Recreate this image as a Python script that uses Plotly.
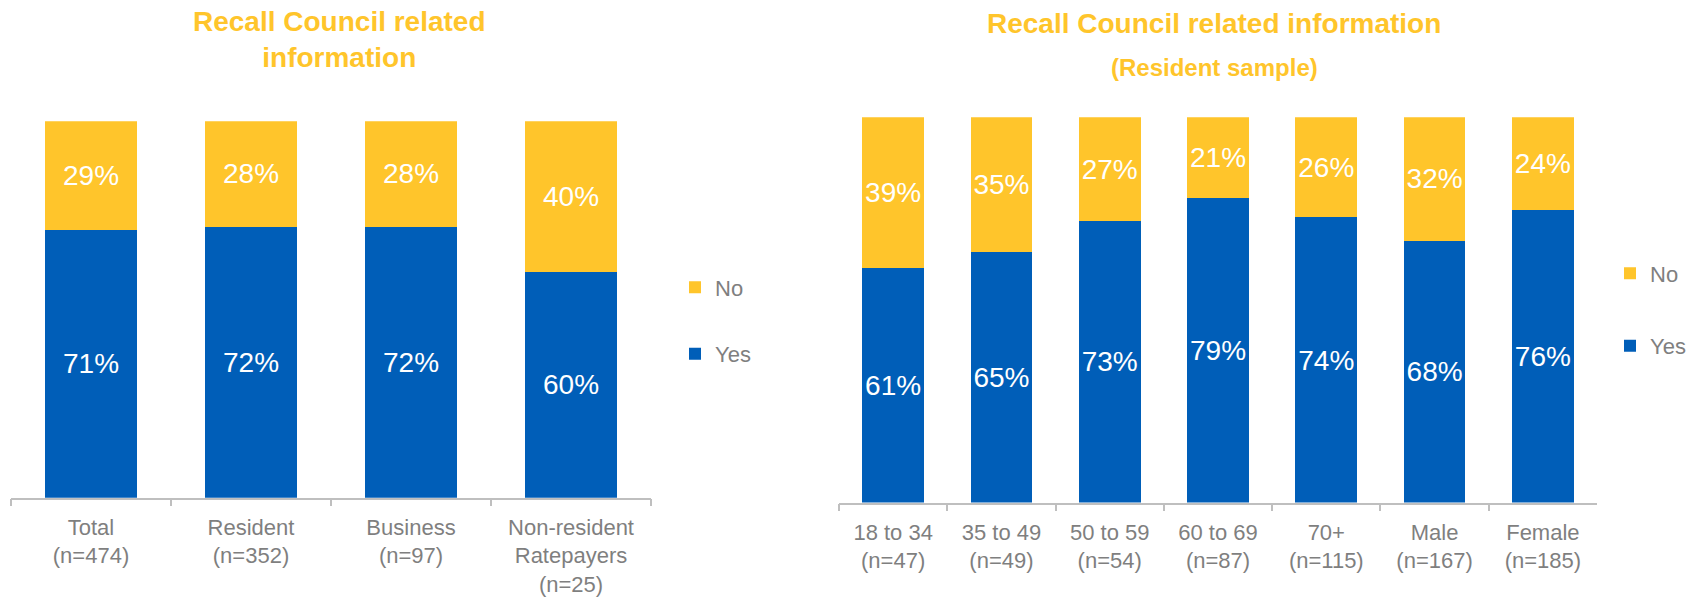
import plotly.graph_objects as go

# Overall sample split
overall_categories = [
    "Total<br>(n=474)",
    "Resident<br>(n=352)",
    "Business<br>(n=97)",
    "Non-resident<br>Ratepayers<br>(n=25)",
]
overall_yes = [71, 72, 72, 60]
overall_no = [29, 28, 28, 40]

# Resident sample split by age and gender
resident_categories = [
    "18 to 34<br>(n=47)",
    "35 to 49<br>(n=49)",
    "50 to 59<br>(n=54)",
    "60 to 69<br>(n=87)",
    "70+<br>(n=115)",
    "Male<br>(n=167)",
    "Female<br>(n=185)",
]
resident_yes = [61, 65, 73, 79, 74, 68, 76]
resident_no = [39, 35, 27, 21, 26, 32, 24]

BLUE = "#005EB8"
YELLOW = "#FFC52B"
GREY_TEXT = "#7F7F7F"
AXIS_GREY = "#BFBFBF"
FONT = "Liberation Sans, Arial, sans-serif"
W, H = 1706, 597


def px_x(v):
    return v / W


def px_y(v):
    return 1 - v / H


def pct(vals):
    return [f"{v}%" for v in vals]


fig = go.Figure()

label_font = dict(family=FONT, size=28, color="white")

for cats, yes, no, xa, ya, lg in [
    (overall_categories, overall_yes, overall_no, "x", "y", "legend"),
    (resident_categories, resident_yes, resident_no, "x2", "y2", "legend2"),
]:
    fig.add_trace(go.Bar(
        x=cats, y=yes, name="Yes", marker_color=BLUE, marker_line_width=0,
        text=pct(yes), textposition="inside", insidetextanchor="middle",
        textangle=0, constraintext="none", cliponaxis=False,
        textfont=label_font, xaxis=xa, yaxis=ya, legend=lg,
        legendgroup="yes" + xa, legendrank=2, hoverinfo="skip",
    ))
    fig.add_trace(go.Bar(
        x=cats, y=no, name="No", marker_color=YELLOW, marker_line_width=0,
        text=pct(no), textposition="inside", insidetextanchor="middle",
        textangle=0, constraintext="none", cliponaxis=False,
        textfont=label_font, xaxis=xa, yaxis=ya, legend=lg,
        legendgroup="no" + xa, legendrank=1, hoverinfo="skip",
    ))

xaxis_common = dict(
    showline=True, linecolor=AXIS_GREY, linewidth=1.5,
    ticks="outside", tickson="boundaries", ticklen=7, tickcolor=AXIS_GREY,
    tickwidth=1.5, showgrid=False, zeroline=False,
    tickfont=dict(family=FONT, size=22, color=GREY_TEXT),
    ticklabelstandoff=9, fixedrange=True,
)
yaxis_common = dict(
    range=[0, 100], visible=False, showgrid=False, zeroline=False,
    fixedrange=True,
)

legend_common = dict(
    font=dict(family=FONT, size=22, color=GREY_TEXT),
    traceorder="grouped", bgcolor="rgba(0,0,0,0)",
    xanchor="left", yanchor="middle", itemclick=False,
)

fig.update_layout(
    width=W, height=H,
    margin=dict(l=0, r=0, t=0, b=0),
    paper_bgcolor="white", plot_bgcolor="white",
    barmode="stack", bargap=0.43,
    uniformtext=dict(mode=False),
    xaxis=dict(domain=[px_x(11), px_x(651)], anchor="y", **xaxis_common),
    yaxis=dict(domain=[px_y(501), px_y(122)], anchor="x", **yaxis_common),
    xaxis2=dict(domain=[px_x(839), px_x(1597)], anchor="y2", **xaxis_common),
    yaxis2=dict(domain=[px_y(506), px_y(118)], anchor="x2", **yaxis_common),
    legend=dict(x=px_x(675), y=px_y(323), tracegroupgap=35, **legend_common),
    legend2=dict(x=px_x(1610), y=px_y(312), tracegroupgap=41, **legend_common),
    showlegend=True,
    annotations=[
        dict(
            text="<b>Recall Council related<br>information</b>",
            x=px_x(339), y=px_y(39.5), xref="paper", yref="paper",
            xanchor="center", yanchor="middle", showarrow=False,
            font=dict(family=FONT, size=28, color=YELLOW),
        ),
        dict(
            text="<b>Recall Council related information</b>",
            x=px_x(1214), y=px_y(24), xref="paper", yref="paper",
            xanchor="center", yanchor="middle", showarrow=False,
            font=dict(family=FONT, size=28, color=YELLOW),
        ),
        dict(
            text="<b>(Resident sample)</b>",
            x=px_x(1214), y=px_y(68), xref="paper", yref="paper",
            xanchor="center", yanchor="middle", showarrow=False,
            font=dict(family=FONT, size=24, color=YELLOW),
        ),
    ],
)

fig.write_html("out.html", config={"displayModeBar": False})
